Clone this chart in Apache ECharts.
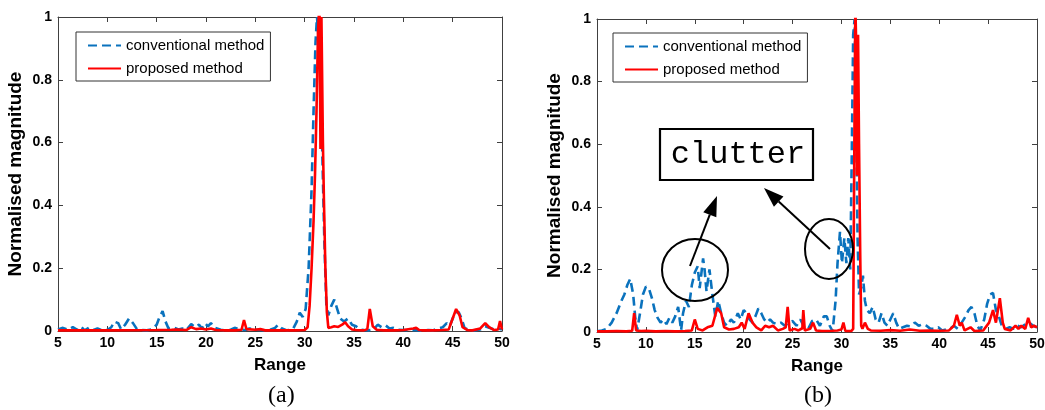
<!DOCTYPE html>
<html><head><meta charset="utf-8">
<script src="https://cdn.jsdelivr.net/npm/echarts@6.0.0/dist/echarts.min.js"></script>
<style>html,body{margin:0;padding:0;background:#fff}#c{width:1045px;height:410px}</style>
</head><body><div id="c"></div>
<script>
// ---------------- data ----------------
const seriesNames = ['conventional method', 'proposed method'];
const xTicks = [5, 10, 15, 20, 25, 30, 35, 40, 45, 50];
const yTicks = [0, 0.2, 0.4, 0.6, 0.8, 1];
const xAxisTitle = 'Range';
const yAxisTitle = 'Normalised magnitude';
const panelLabels = ['(a)', '(b)'];
const annotationText = 'clutter';

// panel (a): conventional method
const convA = [[5,0.005],[5.5,0.01],[6,0.004],[6.5,0.012],[7,0.003],[7.3,0.015],[7.7,0.002],[8.2,0.012],[8.6,0.003],[9,0.008],[9.5,0.002],[10,0.003],[10.4,0.012],[10.7,0.03],[11.1,0.025],[11.4,0.005],[11.8,0.02],[12.2,0.04],[12.6,0.025],[13,0.006],[13.5,0.003],[14,0.002],[14.5,0.005],[15,0.02],[15.3,0.045],[15.6,0.063],[15.9,0.03],[16.2,0.008],[16.7,0.012],[17.2,0.005],[17.6,0.008],[18,0.003],[18.5,0.022],[18.9,0.012],[19.3,0.02],[19.6,0.008],[19.9,0.025],[20.2,0.015],[20.5,0.025],[20.9,0.01],[21.5,0.004],[22,0.002],[22.5,0.004],[22.9,0.01],[23.5,0.004],[24,0.003],[24.4,0.008],[25,0.004],[25.5,0.003],[26,0.002],[26.5,0.004],[27,0.01],[27.3,0.02],[27.7,0.008],[28.2,0.002],[28.8,0.005],[29.2,0.03],[29.5,0.058],[29.8,0.045],[30.1,0.07],[30.4,0.2],[30.7,0.45],[30.9,0.7],[31.1,0.92],[31.25,1.0],[31.45,1.0],[31.6,0.85],[31.8,0.55],[32.0,0.28],[32.2,0.08],[32.4,0.05],[32.7,0.08],[33.0,0.1],[33.3,0.07],[33.6,0.04],[34.0,0.03],[34.4,0.04],[34.8,0.02],[35.2,0.015],[35.6,0.005],[36,0.003],[36.5,0.002],[37,0.005],[37.4,0.02],[37.8,0.012],[38.2,0.018],[38.6,0.008],[39,0.01],[39.5,0.004],[40,0.003],[40.5,0.002],[41,0.003],[41.5,0.002],[42,0.001],[42.5,0.003],[43,0.002],[43.5,0.008],[44,0.012],[44.4,0.025],[44.7,0.015],[45,0.04],[45.3,0.06],[45.6,0.06],[45.9,0.04],[46.2,0.01],[46.7,0.003],[47.2,0.002],[47.8,0.005],[48.3,0.015],[48.7,0.01],[49.2,0.005],[49.6,0.008],[50,0.005]];

// panel (a): proposed method
const propA = [[5,0.002],[10,0.002],[15,0.003],[16.5,0.004],[17,0.005],[18,0.003],[18.5,0.012],[19,0.006],[19.5,0.008],[20,0.005],[20.5,0.008],[21,0.003],[22,0.002],[23,0.002],[23.6,0.004],[23.85,0.035],[24.1,0.006],[25,0.004],[25.5,0.006],[26,0.002],[27,0.002],[28,0.002],[29,0.002],[30,0.003],[30.3,0.012],[30.5,0.08],[30.7,0.2],[30.9,0.35],[31.05,0.5],[31.2,0.7],[31.35,0.95],[31.5,1.05],[31.6,0.58],[31.7,1.0],[31.85,0.6],[31.95,0.42],[32.1,0.2],[32.25,0.06],[32.4,0.01],[32.7,0.012],[33,0.015],[33.4,0.013],[33.8,0.02],[34.1,0.028],[34.4,0.015],[34.8,0.005],[35.2,0.003],[36,0.002],[36.35,0.006],[36.6,0.07],[36.9,0.015],[37.3,0.004],[38,0.002],[39,0.002],[40,0.003],[41,0.008],[41.3,0.01],[41.6,0.003],[42,0.002],[43,0.002],[44,0.003],[44.6,0.005],[45,0.04],[45.35,0.07],[45.7,0.05],[46,0.012],[46.5,0.003],[47,0.002],[47.8,0.008],[48.3,0.025],[48.7,0.012],[49.2,0.003],[49.6,0.005],[49.8,0.032],[50,0.005]];

// panel (b): conventional method
const convB = [[5,0.002],[5.5,0.005],[6,0.01],[6.5,0.03],[7,0.06],[7.5,0.1],[7.8,0.12],[8.1,0.15],[8.4,0.17],[8.7,0.12],[8.9,0.05],[9.1,0.005],[9.4,0.06],[9.7,0.12],[10.0,0.145],[10.3,0.14],[10.6,0.11],[10.9,0.07],[11.2,0.045],[11.5,0.03],[11.8,0.04],[12.1,0.025],[12.4,0.045],[12.7,0.03],[13.0,0.05],[13.3,0.08],[13.6,0.005],[13.8,0.06],[14.1,0.1],[14.4,0.08],[14.7,0.15],[15.0,0.19],[15.3,0.21],[15.5,0.14],[15.85,0.235],[16.0,0.2],[16.2,0.13],[16.5,0.2],[16.8,0.12],[17.1,0.05],[17.4,0.1],[17.7,0.06],[18.0,0.03],[18.3,0.02],[18.7,0.04],[19.0,0.03],[19.4,0.06],[19.7,0.04],[20.0,0.07],[20.3,0.06],[20.6,0.04],[20.9,0.03],[21.2,0.05],[21.5,0.075],[21.8,0.06],[22.1,0.04],[22.4,0.03],[22.7,0.04],[23.0,0.03],[23.4,0.025],[23.8,0.03],[24.2,0.02],[24.6,0.03],[25.0,0.035],[25.4,0.02],[25.8,0.04],[26.2,0.015],[26.6,0.01],[27.0,0.035],[27.4,0.04],[27.8,0.02],[28.2,0.05],[28.5,0.05],[28.8,0.02],[29.1,0.002],[29.4,0.1],[29.6,0.22],[29.85,0.32],[30.05,0.22],[30.3,0.3],[30.5,0.22],[30.7,0.3],[30.9,0.2],[31.05,0.55],[31.2,0.95],[31.35,1.0],[31.5,0.7],[31.65,0.3],[31.8,0.12],[32.0,0.14],[32.2,0.18],[32.4,0.1],[32.6,0.07],[32.9,0.06],[33.2,0.08],[33.5,0.04],[33.8,0.03],[34.1,0.06],[34.4,0.03],[34.7,0.02],[35.0,0.04],[35.3,0.06],[35.6,0.03],[35.9,0.01],[36.3,0.015],[36.7,0.02],[37.1,0.018],[37.5,0.03],[37.9,0.02],[38.3,0.025],[38.7,0.02],[39.1,0.01],[39.5,0.01],[39.9,0.015],[40.3,0.005],[40.7,0.008],[41.1,0.01],[41.5,0.02],[41.9,0.01],[42.3,0.03],[42.7,0.05],[43.0,0.07],[43.3,0.08],[43.6,0.06],[43.9,0.02],[44.2,0.005],[44.6,0.04],[44.9,0.09],[45.2,0.12],[45.5,0.125],[45.8,0.07],[46.1,0.05],[46.4,0.02],[46.8,0.01],[47.2,0.015],[47.6,0.01],[48.0,0.02],[48.4,0.015],[48.8,0.025],[49.2,0.03],[49.6,0.02],[50,0.015]];

// panel (b): proposed method
const propB = [[5,0.002],[6,0.002],[7,0.003],[8,0.002],[8.6,0.004],[8.8,0.06],[9.0,0.005],[9.5,0.003],[10,0.004],[11,0.002],[12,0.003],[13,0.002],[14,0.003],[14.7,0.005],[15.0,0.04],[15.3,0.01],[15.8,0.005],[16.3,0.015],[16.8,0.02],[17.3,0.077],[17.7,0.06],[18.0,0.015],[18.5,0.008],[19.0,0.01],[19.5,0.015],[19.8,0.03],[20.1,0.01],[20.5,0.06],[20.9,0.03],[21.3,0.015],[21.8,0.005],[22.2,0.02],[22.6,0.015],[23.0,0.02],[23.5,0.005],[24.0,0.01],[24.3,0.015],[24.5,0.08],[24.7,0.005],[25.2,0.01],[25.6,0.005],[26.0,0.012],[26.1,0.07],[26.25,0.005],[26.8,0.01],[27.1,0.03],[27.4,0.005],[28,0.003],[29,0.004],[29.6,0.005],[30.0,0.008],[30.2,0.03],[30.4,0.003],[31.0,0.003],[31.2,0.01],[31.32,0.6],[31.42,1.05],[31.52,0.9],[31.6,0.5],[31.7,0.95],[31.8,0.6],[31.92,0.25],[32.02,0.02],[32.15,0.01],[32.4,0.03],[32.7,0.01],[33.0,0.005],[34,0.004],[35,0.006],[36,0.004],[37,0.008],[38,0.004],[39,0.005],[40,0.004],[41,0.005],[41.5,0.02],[41.8,0.055],[42.1,0.02],[42.3,0.03],[42.6,0.005],[43.2,0.015],[43.6,0.003],[44.5,0.005],[45.1,0.03],[45.5,0.07],[45.8,0.03],[46.2,0.108],[46.5,0.03],[46.7,0.01],[47.3,0.005],[47.8,0.02],[48.1,0.01],[48.4,0.02],[48.8,0.01],[49.1,0.045],[49.4,0.015],[49.7,0.02],[50,0.015]];

// ---------------- styling ----------------
const BLUE = '#0a72bd', RED = '#ff0000', AXIS = '#404040';
const SANS = "'Liberation Sans', Arial, Helvetica, sans-serif";
const grids = [
  { left: 58, top: 17, width: 444, height: 314 },
  { left: 597, top: 19, width: 440, height: 313 }
];

const chart = echarts.init(document.getElementById('c'), null, { renderer: 'canvas' });

const xAxes = [], yAxes = [], series = [], legends = [];
grids.forEach((g, i) => {
  const common = { gridIndex: i, type: 'value', splitLine: { show: false },
    axisLine: { show: true, onZero: false, lineStyle: { color: AXIS, width: 1 } },
    axisTick: { show: true, inside: true, length: 5, lineStyle: { color: AXIS } } };
  xAxes.push(Object.assign({}, common, {
    position: 'bottom', min: xTicks[0], max: xTicks[xTicks.length - 1], interval: xTicks[1] - xTicks[0],
    axisLabel: { margin: 5, color: '#000', fontFamily: SANS, fontWeight: 'bold', fontSize: 14,
                 showMinLabel: true, showMaxLabel: true, hideOverlap: false },
    name: xAxisTitle, nameLocation: 'middle', nameGap: 26,
    nameTextStyle: { color: '#000', fontFamily: SANS, fontWeight: 'bold', fontSize: 17 }
  }));
  xAxes.push(Object.assign({}, common, {
    position: 'top', min: xTicks[0], max: xTicks[xTicks.length - 1], interval: xTicks[1] - xTicks[0],
    axisLabel: { show: false }
  }));
  yAxes.push(Object.assign({}, common, {
    position: 'left', min: yTicks[0], max: yTicks[yTicks.length - 1], interval: yTicks[1] - yTicks[0],
    axisLabel: { margin: 6, color: '#000', fontFamily: SANS, fontWeight: 'bold', fontSize: 14,
                 showMinLabel: true, showMaxLabel: true },
    name: yAxisTitle, nameLocation: 'middle', nameGap: 33,
    nameTextStyle: { color: '#000', fontFamily: SANS, fontWeight: 'bold', fontSize: 19 }
  }));
  yAxes.push(Object.assign({}, common, {
    position: 'right', min: yTicks[0], max: yTicks[yTicks.length - 1], interval: yTicks[1] - yTicks[0],
    axisLabel: { show: false }
  }));
  const data = i === 0 ? [convA, propA] : [convB, propB];
  series.push({
    name: seriesNames[0], type: 'line', xAxisIndex: 2 * i, yAxisIndex: 2 * i,
    data: data[0], symbol: 'none', showSymbol: false, clip: true,
    lineStyle: { color: BLUE, width: 2.6, type: [9, 5] }, itemStyle: { color: BLUE }
  });
  series.push({
    name: seriesNames[1], type: 'line', xAxisIndex: 2 * i, yAxisIndex: 2 * i,
    data: data[1], symbol: 'none', showSymbol: false, clip: true,
    lineStyle: { color: RED, width: 2.6 }, itemStyle: { color: RED }
  });
  legends.push({
    data: seriesNames, orient: 'vertical',
    left: i === 0 ? 76 : 613, top: i === 0 ? 32 : 33,
    padding: [6, 6, 5, 11], itemGap: 8, itemWidth: 33, itemHeight: 14,
    borderColor: '#333', borderWidth: 1, borderRadius: 0, backgroundColor: '#fff',
    selectedMode: false,
    itemStyle: { color: 'rgba(0,0,0,0)', borderWidth: 0, opacity: 0 },
    textStyle: { color: '#000', fontFamily: SANS, fontSize: 15, lineHeight: 14 }
  });
});

function arrow(x1, y1, x2, y2) {
  const L = 20, W = 7;
  const dx = x2 - x1, dy = y2 - y1, len = Math.hypot(dx, dy);
  const ux = dx / len, uy = dy / len;
  const bx = x2 - ux * L, by = y2 - uy * L;
  return [
    { type: 'line', shape: { x1: x1, y1: y1, x2: bx, y2: by }, style: { stroke: '#000', lineWidth: 2 } },
    { type: 'polygon', shape: { points: [[x2, y2], [bx - uy * W, by + ux * W], [bx + uy * W, by - ux * W]] },
      style: { fill: '#000' } }
  ];
}

const graphics = [
  { type: 'text', left: 268, top: 384, style: { text: panelLabels[0], fill: '#000', font: "24px 'Liberation Serif', 'Times New Roman', serif" } },
  { type: 'text', left: 804, top: 384, style: { text: panelLabels[1], fill: '#000', font: "24px 'Liberation Serif', 'Times New Roman', serif" } },
  { type: 'rect', shape: { x: 660, y: 129, width: 153, height: 51 }, style: { fill: '#fff', stroke: '#000', lineWidth: 2.2 }, z: 50 },
  { type: 'text', x: 738, y: 155, style: { text: annotationText, fill: '#000', align: 'center', verticalAlign: 'middle',
      font: "32px 'Liberation Mono', 'Courier New', monospace" }, z: 51 },
  { type: 'ellipse', shape: { cx: 695, cy: 270, rx: 33, ry: 31 }, style: { fill: 'none', stroke: '#000', lineWidth: 2 }, z: 50 },
  { type: 'ellipse', shape: { cx: 829, cy: 249, rx: 24, ry: 30 }, style: { fill: 'none', stroke: '#000', lineWidth: 2 }, z: 50 }
].concat(arrow(690, 266, 717, 196).map(e => Object.assign(e, { z: 50 })))
 .concat(arrow(830, 249, 764, 188).map(e => Object.assign(e, { z: 50 })));

chart.setOption({
  animation: false,
  backgroundColor: '#fff',
  grid: grids.map(g => Object.assign({ containLabel: false, outerBoundsMode: 'none' }, g)),
  xAxis: xAxes,
  yAxis: yAxes,
  legend: legends,
  series: series,
  graphic: graphics
});
</script>
</body></html>
